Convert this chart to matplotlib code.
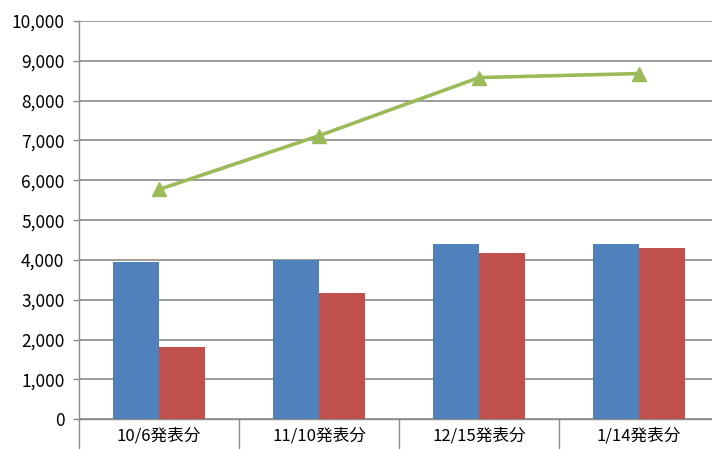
import matplotlib.pyplot as plt
import numpy as np

# Announcement dates and series values
categories = ["10/6発表分", "11/10発表分", "12/15発表分", "1/14発表分"]
blue_values = [3940, 4000, 4400, 4400]
red_values = [1820, 3160, 4170, 4300]
line_values = [5770, 7120, 8580, 8680]

plt.rcParams['font.family'] = ['Noto Sans CJK JP', 'DejaVu Sans']

fig = plt.figure(figsize=(7.12, 4.49), dpi=100)
ax = fig.add_axes([79 / 712, 29.7 / 449, 640 / 712, 398.3 / 449])

x = np.arange(len(categories))
width = 0.285
ax.bar(x - width / 2, blue_values, width, color="#4F81BD", zorder=3)
ax.bar(x + width / 2, red_values, width, color="#C0504D", zorder=3)
ax.plot(x, line_values, color="#9BBB59", linewidth=2.6, marker="^",
        markersize=10, zorder=4)

ax.set_xlim(-0.5, 3.5)
ax.set_ylim(0, 10000)
ax.set_yticks(range(0, 10001, 1000))
ax.set_yticklabels([f"{v:,}" for v in range(0, 10001, 1000)], fontsize=12.5)
ax.yaxis.grid(True, color="#8a8a8a", linewidth=1.2, zorder=0)

# Category labels centred, separator ticks between categories
ax.set_xticks(x)
ax.set_xticklabels(categories, fontsize=12)
ax.set_xticks(np.arange(-0.5, 4, 1), minor=True)
ax.tick_params(axis="x", which="major", length=0, pad=6)
ax.tick_params(axis="x", which="minor", length=24, color="#8a8a8a", width=1)
ax.tick_params(axis="y", length=4.5, color="#8a8a8a", width=1, pad=6)

for side in ["top", "right"]:
    ax.spines[side].set_visible(False)
for side in ["left", "bottom"]:
    ax.spines[side].set_color("#8a8a8a")
    ax.spines[side].set_linewidth(1)

fig.savefig("out.png", dpi=100)
